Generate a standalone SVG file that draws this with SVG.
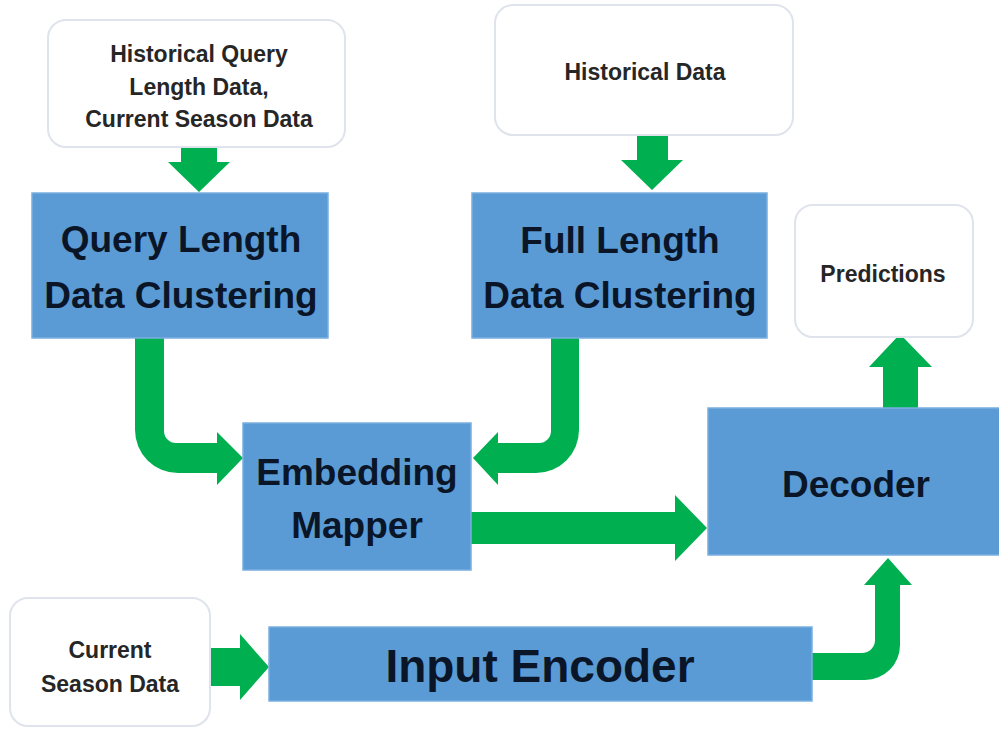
<svg xmlns="http://www.w3.org/2000/svg" width="999" height="730" viewBox="0 0 999 730">
<style>
.wbox{fill:#ffffff;stroke:#dfe3ec;stroke-width:2}
.bbox{fill:#5b9bd5;stroke:#7aaee0;stroke-width:1.5}
.st{font-family:"Liberation Sans",Arial,sans-serif;font-weight:bold;font-size:23px;fill:#262626;text-anchor:middle}
.bt{font-family:"Liberation Sans",Arial,sans-serif;font-weight:bold;font-size:37px;fill:#0a1628;text-anchor:middle}
.arr{fill:#00b050}
</style>
<rect width="999" height="730" fill="#ffffff"/>
<g id="connectors">
<path class="arr" d="M181,147 H217 V162 H230 L199,192 L168,162 H181 Z"/>
<path class="arr" d="M637,135 H668 V160 H683 L652,190 L621,160 H637 Z"/>
<path class="arr" d="M135,338 H164 V431 A12,12 0 0 0 176,443 H217 V432 L243,458 L217,485 V473 H178 A43,43 0 0 1 135,430 Z"/>
<path class="arr" d="M551,338 H579 V430 A43,43 0 0 1 536,473 H498 V485 L473,458 L498,432 V443 H539 A12,12 0 0 0 551,431 Z"/>
<path class="arr" d="M471,512 H675 V495 L707,528 L675,561 V544 H471 Z"/>
<path class="arr" d="M210,648 H240 V634 L269,667 L240,700 V686 H210 Z"/>
<path class="arr" d="M812,653 H862 A13,13 0 0 0 875,640 V585 H864 L888,558 L912,585 H900 V645 A35,35 0 0 1 865,680 H812 Z"/>
<path class="arr" d="M883,409 V367 H869 L900,334 L932,367 H918 V409 Z"/>
</g>
<g id="hist-query">
<rect class="wbox" x="48" y="20" width="297" height="127" rx="18"/>
<text class="st" x="199" y="62">Historical Query</text>
<text class="st" x="199" y="95">Length Data,</text>
<text class="st" x="199" y="127">Current Season Data</text>
</g>
<g id="hist-data">
<rect class="wbox" x="495" y="5" width="298" height="130" rx="18"/>
<text class="st" x="645" y="80">Historical Data</text>
</g>
<g id="predictions">
<rect class="wbox" x="795" y="205" width="178" height="132" rx="18"/>
<text class="st" x="883" y="282">Predictions</text>
</g>
<g id="current-season">
<rect class="wbox" x="10" y="598" width="200" height="128" rx="18"/>
<text class="st" x="110" y="658">Current</text>
<text class="st" x="110" y="692">Season Data</text>
</g>
<g id="query-clustering">
<rect class="bbox" x="32" y="193" width="296" height="145"/>
<text class="bt" x="181" y="252">Query Length</text>
<text class="bt" x="181" y="308">Data Clustering</text>
</g>
<g id="full-clustering">
<rect class="bbox" x="472" y="193" width="295" height="145"/>
<text class="bt" x="620" y="253">Full Length</text>
<text class="bt" x="620" y="308">Data Clustering</text>
</g>
<g id="embedding-mapper">
<rect class="bbox" x="243" y="423" width="228" height="147"/>
<text class="bt" x="357" y="485" font-size="38">Embedding</text>
<text class="bt" x="357" y="538" font-size="38">Mapper</text>
</g>
<g id="decoder">
<rect class="bbox" x="708" y="408" width="300" height="147"/>
<text class="bt" x="856" y="497" font-size="38">Decoder</text>
</g>
<g id="input-encoder">
<rect class="bbox" x="269" y="627" width="543" height="74"/>
<text class="bt" x="540" y="682" style="font-size:46px">Input Encoder</text>
</g>
</svg>
